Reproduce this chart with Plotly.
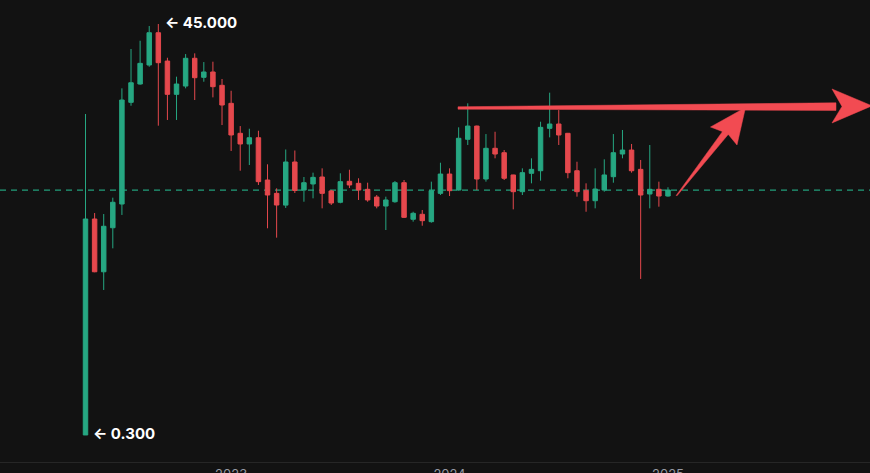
import plotly.graph_objects as go

# OHLC per period
opens = [0.30, 23.79, 18.05, 22.84, 25.42, 36.48, 38.47, 40.54, 44.05, 40.97,
         37.35, 38.25, 41.27, 39.20, 39.78, 38.33, 36.37, 33.11, 31.95, 32.63,
         28.03, 26.58, 25.30, 29.99, 26.94, 27.60, 28.36, 26.84, 25.61, 27.89,
         27.67, 27.02, 26.18, 25.20, 25.67, 27.74, 23.76, 24.30, 23.50, 26.58,
         28.68, 26.94, 32.46, 33.90, 28.14, 31.48, 31.00, 28.58, 26.76, 28.76,
         29.04, 33.65, 34.12, 33.11, 29.04, 26.87, 25.78, 26.94, 28.39, 30.86,
         31.29, 29.19, 26.51, 27.02, 26.29]
highs = [35.21, 24.44, 24.33, 26.11, 38.00, 42.28, 43.18, 44.78, 45.00, 41.33,
         39.27, 41.73, 41.81, 40.86, 40.90, 39.02, 37.74, 33.90, 33.61, 33.39,
         29.74, 27.13, 31.35, 31.24, 28.36, 28.83, 29.30, 26.95, 28.76, 29.15,
         28.22, 27.74, 26.40, 26.22, 27.92, 28.03, 24.58, 24.77, 27.85, 29.91,
         29.30, 33.76, 36.37, 33.95, 33.03, 33.28, 31.29, 28.60, 29.30, 30.39,
         34.37, 37.53, 35.64, 33.15, 30.02, 27.67, 29.30, 30.28, 33.03, 33.47,
         31.95, 30.21, 31.84, 27.85, 27.24]
lows = [0.30, 18.00, 16.07, 20.60, 24.23, 36.11, 38.40, 40.35, 33.94, 34.56,
        34.56, 38.00, 36.73, 38.72, 37.02, 34.01, 31.19, 29.04, 29.66, 27.49,
        22.78, 21.76, 24.99, 26.62, 25.67, 26.04, 24.95, 25.31, 25.50, 27.16,
        25.86, 25.67, 24.95, 22.59, 25.56, 23.90, 23.50, 23.06, 23.39, 26.40,
        26.29, 26.87, 31.84, 26.94, 27.85, 30.39, 28.03, 24.84, 26.40, 27.67,
        27.96, 32.67, 31.84, 28.22, 26.22, 24.58, 24.95, 26.76, 27.74, 30.39,
        28.83, 17.27, 24.95, 25.13, 26.22]
closes = [23.79, 18.05, 23.00, 25.61, 36.73, 38.61, 40.72, 44.05, 40.79, 37.35,
          38.47, 41.27, 39.16, 39.78, 38.18, 36.19, 32.93, 31.95, 32.63, 27.85,
          26.40, 25.31, 29.99, 26.89, 27.74, 28.32, 26.58, 25.53, 27.85, 27.49,
          26.94, 25.86, 25.20, 25.86, 27.74, 23.97, 24.41, 23.61, 26.87, 28.68,
          26.87, 32.57, 33.90, 28.14, 31.48, 30.86, 28.22, 26.76, 28.83, 29.19,
          33.76, 34.12, 32.93, 28.83, 26.76, 25.78, 27.05, 28.58, 31.00, 31.29,
          29.04, 26.40, 27.02, 26.29, 26.94]
periods = list(range(len(opens)))

year_ticks = [16, 40, 64]
year_labels = ["2023", "2024", "2025"]

UP = "#26a782"
DOWN = "#e5484d"
ARROW = "#f24b52"
BG = "#121212"

W, H, PLOT_H = 870, 473, 462


def to_paper(pts):
    # pixel coords -> paper coords, plot area fills the top 462px
    return "M " + " L ".join(f"{x / W:.5f},{(PLOT_H - y) / PLOT_H:.5f}" for x, y in pts) + " Z"


fig = go.Figure(go.Candlestick(
    x=periods, open=opens, high=highs, low=lows, close=closes,
    increasing=dict(line=dict(color=UP, width=1), fillcolor=UP),
    decreasing=dict(line=dict(color=DOWN, width=1), fillcolor=DOWN),
    whiskerwidth=0,
    hoverinfo="skip",
))

# last price line
fig.add_shape(type="line", xref="paper", x0=0, x1=1, yref="y",
              y0=closes[-1], y1=closes[-1], layer="below",
              line=dict(color="#229e7b", width=1.2, dash="6px,5px"))

# hand-drawn style red arrows
horiz_shaft = [(458, 106.8), (836, 102.8), (836, 110.4), (458, 109.2)]
horiz_head = [(832, 89), (872, 105.8), (832, 123), (842, 106.4)]
diag_shaft = [(676.2, 195.4), (724.2, 129.2), (729.4, 133.0), (677.0, 195.8)]
diag_head = [(710.5, 127.0), (745.5, 107.5), (737.0, 145.0), (727.5, 133.5)]
for pts in (horiz_shaft, horiz_head, diag_shaft, diag_head):
    fig.add_shape(type="path", xref="paper", yref="paper", path=to_paper(pts),
                  fillcolor=ARROW, line=dict(color=ARROW, width=0.5), layer="above")

label_font = dict(family="Inter, Roboto, sans-serif", size=15, color="#ffffff", weight="bold")
i_max = highs.index(max(highs))
i_min = lows.index(min(lows))
fig.add_annotation(x=periods[i_max], y=highs[i_max], text=f"← {highs[i_max]:.3f}",
                   showarrow=False, xanchor="left", yanchor="middle", xshift=5, yshift=2,
                   font=label_font)
fig.add_annotation(x=periods[i_min], y=lows[i_min], text=f"← {lows[i_min]:.3f}",
                   showarrow=False, xanchor="left", yanchor="middle", xshift=5, yshift=1,
                   font=label_font)

px_per_bar = 9.1
fig.update_layout(
    width=W, height=H,
    paper_bgcolor=BG, plot_bgcolor=BG,
    margin=dict(l=0, r=0, t=0, b=H - PLOT_H, autoexpand=False),
    showlegend=False,
    hovermode=False,
    xaxis=dict(
        range=[-85.5 / px_per_bar, periods[-1] + (870 - 668) / px_per_bar],
        rangeslider=dict(visible=False),
        automargin=False,
        showgrid=False, zeroline=False,
        showline=True, linecolor="#262626", linewidth=1,
        ticks="", tickvals=year_ticks, ticktext=year_labels,
        tickfont=dict(family="Inter, Roboto, sans-serif", size=13, color="#9598a1"),
        fixedrange=True,
    ),
    yaxis=dict(
        range=[-2.64, 47.61],
        automargin=False,
        showgrid=False, zeroline=False, showticklabels=False, showline=False,
        fixedrange=True,
    ),
)

fig.write_html("out.html", config={"displayModeBar": False},
               post_script="document.body.style.margin='0';document.body.style.background='#121212';")
